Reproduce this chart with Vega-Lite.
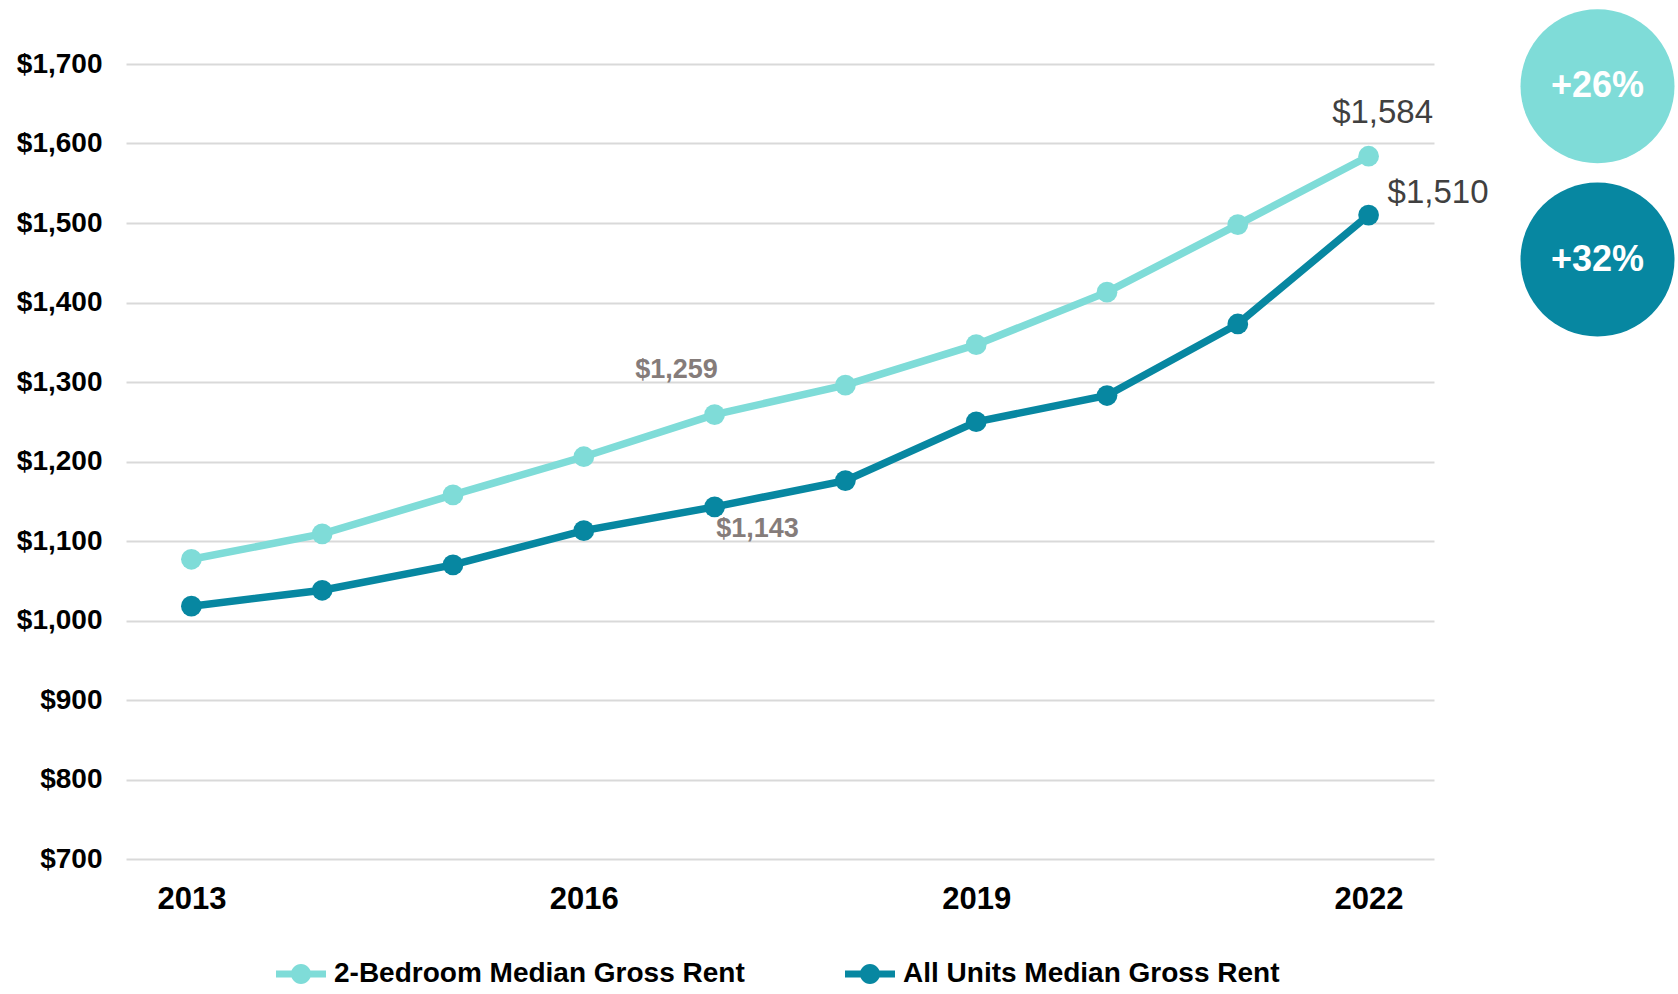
{
  "$schema": "https://vega.github.io/schema/vega-lite/v6.json",
  "width": 1308,
  "height": 795,
  "autosize": "none",
  "padding": {"left": 126, "top": 64, "right": 244, "bottom": 135},
  "background": "white",
  "config": {
    "view": {"stroke": null},
    "font": "Liberation Sans"
  },
  "datasets": {
    "rent": [
      {"year": 2013, "series": "2-Bedroom Median Gross Rent", "rent": 1077},
      {"year": 2014, "series": "2-Bedroom Median Gross Rent", "rent": 1109},
      {"year": 2015, "series": "2-Bedroom Median Gross Rent", "rent": 1158},
      {"year": 2016, "series": "2-Bedroom Median Gross Rent", "rent": 1206},
      {"year": 2017, "series": "2-Bedroom Median Gross Rent", "rent": 1259},
      {"year": 2018, "series": "2-Bedroom Median Gross Rent", "rent": 1296},
      {"year": 2019, "series": "2-Bedroom Median Gross Rent", "rent": 1347},
      {"year": 2020, "series": "2-Bedroom Median Gross Rent", "rent": 1413},
      {"year": 2021, "series": "2-Bedroom Median Gross Rent", "rent": 1498},
      {"year": 2022, "series": "2-Bedroom Median Gross Rent", "rent": 1584},
      {"year": 2013, "series": "All Units Median Gross Rent", "rent": 1018},
      {"year": 2014, "series": "All Units Median Gross Rent", "rent": 1038},
      {"year": 2015, "series": "All Units Median Gross Rent", "rent": 1070},
      {"year": 2016, "series": "All Units Median Gross Rent", "rent": 1113},
      {"year": 2017, "series": "All Units Median Gross Rent", "rent": 1143},
      {"year": 2018, "series": "All Units Median Gross Rent", "rent": 1176},
      {"year": 2019, "series": "All Units Median Gross Rent", "rent": 1250},
      {"year": 2020, "series": "All Units Median Gross Rent", "rent": 1283},
      {"year": 2021, "series": "All Units Median Gross Rent", "rent": 1373},
      {"year": 2022, "series": "All Units Median Gross Rent", "rent": 1510}
    ],
    "labels": [
      {"year": 2017, "rent": 1259, "label": "$1,259", "id": "a"},
      {"year": 2017, "rent": 1143, "label": "$1,143", "id": "b"},
      {"year": 2022, "rent": 1584, "label": "$1,584", "id": "c"},
      {"year": 2022, "rent": 1510, "label": "$1,510", "id": "d"}
    ],
    "badges": [
      {"year": 2023.75, "rent": 1672, "label": "+26%", "id": "light"},
      {"year": 2023.75, "rent": 1454, "label": "+32%", "id": "dark"}
    ]
  },
  "encoding": {
    "x": {
      "field": "year", "type": "quantitative",
      "scale": {"domain": [2012.5, 2022.5], "nice": false, "zero": false},
      "axis": {
        "title": null, "values": [2013, 2016, 2019, 2022], "format": "d",
        "grid": false, "ticks": false, "domain": false,
        "labelFontSize": 31, "labelFontWeight": "bold", "labelColor": "#000000",
        "labelPadding": 25, "labelFont": "Liberation Sans"
      }
    },
    "y": {
      "field": "rent", "type": "quantitative",
      "scale": {"domain": [700, 1700], "nice": false, "zero": false},
      "axis": {
        "title": null, "values": [700, 800, 900, 1000, 1100, 1200, 1300, 1400, 1500, 1600, 1700],
        "format": "$,.0f", "grid": true, "gridColor": "#d9d9d9", "gridWidth": 2,
        "ticks": false, "domain": false,
        "labelFontSize": 28, "labelFontWeight": "bold", "labelColor": "#000000",
        "labelPadding": 24, "labelFont": "Liberation Sans"
      }
    }
  },
  "layer": [
    {
      "data": {"name": "rent"},
      "mark": {"type": "line", "strokeWidth": 7.5},
      "encoding": {
        "color": {
          "field": "series", "type": "nominal",
          "scale": {"domain": ["2-Bedroom Median Gross Rent", "All Units Median Gross Rent"], "range": ["#7fdcd8", "#0787a1"]},
          "legend": {
            "title": null, "orient": "none", "direction": "horizontal", "columns": 2,
            "legendX": 161, "legendY": 896, "padding": 0,
            "symbolType": "M-2.5,-0.35L2.5,-0.35L2.5,0.35L-2.5,0.35Z M1,0A1,1 0 1,1 -1,0A1,1 0 1,1 1,0Z",
            "symbolSize": 400, "symbolStrokeWidth": 0, "symbolOpacity": 1,
            "labelOffset": 19, "columnPadding": 100,
            "labelFontSize": 28, "labelFontWeight": "bold", "labelColor": "#000000",
            "labelFont": "Liberation Sans", "labelLimit": 600,
            "encode": {"symbols": {"update": {"fill": {"scale": "color", "field": "value"}, "stroke": {"value": "transparent"}}}}
          }
        }
      }
    },
    {
      "data": {"name": "rent"},
      "mark": {"type": "point", "filled": true, "size": 430, "opacity": 1},
      "encoding": {
        "color": {"field": "series", "type": "nominal"}
      }
    },
    {
      "data": {"name": "labels"},
      "transform": [{"filter": "datum.id === 'a'"}],
      "mark": {"type": "text", "dx": -38, "dy": -45, "fontSize": 27, "fontWeight": "bold", "color": "#857c7a", "font": "Liberation Sans"},
      "encoding": {"text": {"field": "label"}}
    },
    {
      "data": {"name": "labels"},
      "transform": [{"filter": "datum.id === 'b'"}],
      "mark": {"type": "text", "dx": 43, "dy": 22, "fontSize": 27, "fontWeight": "bold", "color": "#857c7a", "font": "Liberation Sans"},
      "encoding": {"text": {"field": "label"}}
    },
    {
      "data": {"name": "labels"},
      "transform": [{"filter": "datum.id === 'c'"}],
      "mark": {"type": "text", "dx": 14, "dy": -43, "fontSize": 33, "color": "#404040", "font": "Liberation Sans"},
      "encoding": {"text": {"field": "label"}}
    },
    {
      "data": {"name": "labels"},
      "transform": [{"filter": "datum.id === 'd'"}],
      "mark": {"type": "text", "dx": 19, "dy": -22, "align": "left", "fontSize": 33, "color": "#404040", "font": "Liberation Sans"},
      "encoding": {"text": {"field": "label"}}
    },
    {
      "data": {"name": "badges"},
      "transform": [{"filter": "datum.id === 'light'"}],
      "mark": {"type": "point", "filled": true, "size": 23716, "color": "#7fdcd8", "opacity": 1},
      "encoding": {}
    },
    {
      "data": {"name": "badges"},
      "transform": [{"filter": "datum.id === 'dark'"}],
      "mark": {"type": "point", "filled": true, "size": 23716, "color": "#0787a1", "opacity": 1},
      "encoding": {}
    },
    {
      "data": {"name": "badges"},
      "mark": {"type": "text", "fontSize": 36, "fontWeight": "bold", "color": "#ffffff", "font": "Liberation Sans", "baseline": "middle"},
      "encoding": {"text": {"field": "label"}}
    }
  ]
}
